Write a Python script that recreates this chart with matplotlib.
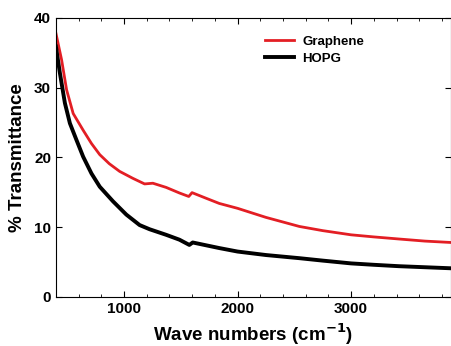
import numpy as np
import matplotlib.pyplot as plt
from matplotlib.ticker import MultipleLocator

plt.rcParams['font.family'] = ['Liberation Sans', 'DejaVu Sans']
plt.rcParams['font.weight'] = 'bold'

# Data
wave = [400, 450, 494, 552, 640, 713, 786, 870, 961, 1078, 1181, 1254, 1371,
        1488, 1570, 1599, 1722, 1839, 2000, 2250, 2544, 2750, 3000, 3200,
        3421, 3650, 3880]
graphene = [37.8, 34.0, 29.7, 26.3, 23.9, 22.0, 20.4, 19.1, 18.0, 17.0, 16.2,
            16.3, 15.7, 14.9, 14.4, 14.95, 14.15, 13.4, 12.7, 11.4, 10.1, 9.5,
            8.9, 8.6, 8.3, 8.0, 7.8]
wave_h = [400, 435, 479, 523, 581, 640, 713, 786, 903, 1020, 1137, 1225, 1371,
          1488, 1575, 1605, 1839, 2000, 2250, 2544, 2750, 3000, 3200, 3421,
          3650, 3880]
hopg = [35.9, 32.1, 27.8, 24.9, 22.5, 20.1, 17.7, 15.8, 13.7, 11.8, 10.3, 9.7,
        8.9, 8.2, 7.45, 7.8, 7.0, 6.5, 6.0, 5.55, 5.2, 4.8, 4.6, 4.4, 4.25, 4.1]

fig = plt.figure(figsize=(4.51, 3.46), dpi=100)
ax = fig.add_axes([0.124, 0.142, 0.876, 0.806])

ax.plot(wave, graphene, color='#e31e24', lw=2.0, label='Graphene')
ax.plot(wave_h, hopg, color='black', lw=2.8, label='HOPG')

ax.set_xlim(400, 3880)
ax.set_ylim(0, 40)
ax.xaxis.set_major_locator(MultipleLocator(1000))
ax.xaxis.set_minor_locator(MultipleLocator(200))
ax.yaxis.set_major_locator(MultipleLocator(10))
ax.tick_params(which='both', direction='in', top=True, right=True, labelsize=11)
ax.tick_params(which='major', length=4, width=0.8)
ax.tick_params(which='minor', length=2.5, width=0.6)
for lab in ax.get_xticklabels() + ax.get_yticklabels():
    lab.set_fontweight('bold')

ax.set_xlabel('Wave numbers (cm$^{\\mathbf{-1}}$)', fontsize=13.5, fontweight='bold', labelpad=4)
ax.set_ylabel('% Transmittance', fontsize=13.5, fontweight='bold', labelpad=6)

ax.legend(loc='upper left', bbox_to_anchor=(0.50, 0.98), frameon=False,
          prop={'size': 9.5, 'weight': 'bold'}, handlelength=2.2, handletextpad=0.6,
          labelspacing=0.35)

fig.savefig('out.png', dpi=100)
